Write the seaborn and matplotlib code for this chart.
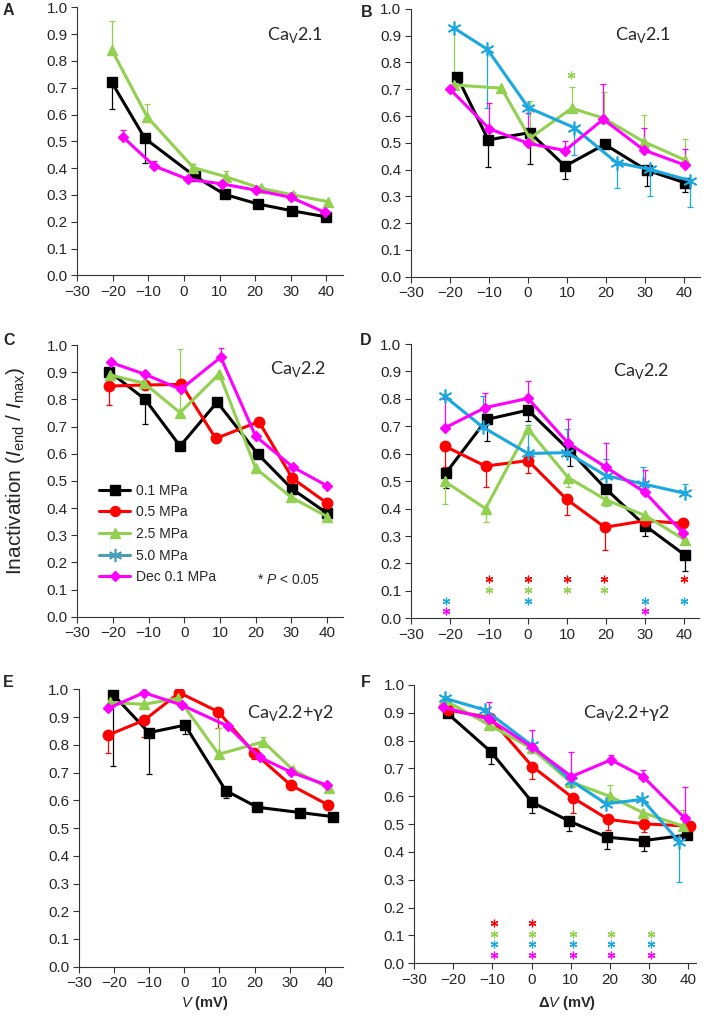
"""Inactivation vs voltage for CaV2.1, CaV2.2 and CaV2.2+gamma2 under pressure."""

import numpy as np
import pandas as pd
import matplotlib
matplotlib.use("Agg")
import matplotlib.pyplot as plt
import seaborn as sns
from matplotlib.lines import Line2D

nan = np.nan

SERIES = ["0.1 MPa", "0.5 MPa", "2.5 MPa", "5.0 MPa", "Dec 0.1 MPa"]

# ---- panel A: CaV2.1 (V)
A_X = {
    "0.1 MPa": [-20.3, -11, 3.0, 11.4, 20.8, 30.3, 40],
    "2.5 MPa": [-20.3, -10.3, 2.6, 11.7, 21.5, 30.6, 40.4],
    "Dec 0.1 MPa": [-17.1, -8.4, 1.2, 10.8, 20.1, 30, 39.5],
}
A_Y = {
    "0.1 MPa": [0.72, 0.511, 0.37, 0.302, 0.266, 0.241, 0.218],
    "2.5 MPa": [0.841, 0.59, 0.402, 0.368, 0.325, 0.30, 0.275],
    "Dec 0.1 MPa": [0.515, 0.408, 0.358, 0.341, 0.318, 0.291, 0.235],
}
A_ERR = {
    "0.1 MPa": [0.62, 0.42, nan, nan, nan, nan, nan],
    "2.5 MPa": [0.95, 0.64, 0.415, 0.39, 0.335, 0.31, nan],
    "Dec 0.1 MPa": [0.542, 0.425, nan, nan, nan, nan, nan],
}

# ---- panel B: CaV2.1 (dV)
B_X = {
    "0.1 MPa": [-18.1, -10.2, 0.5, 9.5, 19.7, 30.4, 40.2],
    "2.5 MPa": [-19, -6.8, 0.5, 11.2, 19.4, 29.7, 40.2],
    "5.0 MPa": [-18.9, -10.4, 0.1, 11.8, 22.7, 31.2, 41.5],
    "Dec 0.1 MPa": [-20, -9.9, 0.1, 9.5, 19.3, 29.7, 40.2],
}
B_Y = {
    "0.1 MPa": [0.745, 0.511, 0.538, 0.413, 0.494, 0.398, 0.351],
    "2.5 MPa": [0.716, 0.704, 0.517, 0.629, 0.592, 0.504, 0.436],
    "5.0 MPa": [0.928, 0.849, 0.631, 0.557, 0.426, 0.401, 0.359],
    "Dec 0.1 MPa": [0.70, 0.552, 0.498, 0.471, 0.588, 0.473, 0.417],
}
B_ERR = {
    "0.1 MPa": [nan, 0.41, 0.42, 0.365, nan, 0.34, 0.315],
    "2.5 MPa": [0.93, nan, 0.655, 0.71, 0.69, 0.605, 0.515],
    "5.0 MPa": [nan, 0.63, nan, 0.455, 0.33, 0.30, 0.26],
    "Dec 0.1 MPa": [nan, 0.65, 0.61, 0.505, 0.72, 0.555, 0.475],
}
B_STARS = {"2.5 MPa": ([11], 0.753)}

# ---- panel C: CaV2.2 (V)
C_X = {
    "0.1 MPa": [-21, -11, -1.2, 9.2, 20.5, 30.2, 40.1],
    "0.5 MPa": [-21, -11, -0.8, 8.8, 20.9, 30.3, 40.1],
    "2.5 MPa": [-20.8, -11.2, -1.2, 9.8, 20, 30, 40.1],
    "Dec 0.1 MPa": [-20.6, -11, -1, 10.2, 20, 30.5, 40.1],
}
C_Y = {
    "0.1 MPa": [0.902, 0.80, 0.628, 0.79, 0.60, 0.47, 0.38],
    "0.5 MPa": [0.849, 0.853, 0.855, 0.656, 0.718, 0.509, 0.417],
    "2.5 MPa": [0.89, 0.859, 0.751, 0.894, 0.546, 0.439, 0.368],
    "Dec 0.1 MPa": [0.936, 0.892, 0.837, 0.955, 0.664, 0.55, 0.481],
}
C_ERR = {
    "0.1 MPa": [nan, 0.71, nan, nan, nan, nan, nan],
    "0.5 MPa": [0.779, nan, nan, nan, nan, nan, nan],
    "2.5 MPa": [nan, nan, 0.985, nan, nan, nan, nan],
    "Dec 0.1 MPa": [nan, nan, nan, 0.99, nan, nan, nan],
}

# ---- panel D: CaV2.2 (dV)
D_X = {
    "0.1 MPa": [-21.1, -10.6, 0, 10.7, 20.1, 30, 40.2],
    "0.5 MPa": [-21.4, -10.9, 0, 9.9, 19.7, 30, 39.8],
    "2.5 MPa": [-21.4, -10.9, 0, 10.3, 20.1, 30, 40.2],
    "5.0 MPa": [-21.4, -11.5, 0, 10, 20, 29.5, 40.2],
    "Dec 0.1 MPa": [-21.2, -11, 0, 10.3, 20.1, 30, 39.8],
}
D_Y = {
    "0.1 MPa": [0.529, 0.725, 0.759, 0.611, 0.47, 0.338, 0.231],
    "0.5 MPa": [0.628, 0.555, 0.575, 0.434, 0.332, 0.356, 0.346],
    "2.5 MPa": [0.50, 0.40, 0.69, 0.513, 0.431, 0.375, 0.286],
    "5.0 MPa": [0.81, 0.696, 0.601, 0.604, 0.52, 0.49, 0.456],
    "Dec 0.1 MPa": [0.695, 0.768, 0.802, 0.638, 0.55, 0.459, 0.31],
}
D_ERR = {
    "0.1 MPa": [0.475, 0.648, 0.72, 0.555, nan, 0.30, 0.173],
    "0.5 MPa": [0.55, 0.48, 0.53, 0.375, 0.25, nan, nan],
    "2.5 MPa": [0.415, 0.35, nan, 0.48, 0.41, nan, nan],
    "5.0 MPa": [nan, 0.81, 0.705, 0.69, 0.58, 0.55, 0.49],
    "Dec 0.1 MPa": [0.80, 0.82, 0.865, 0.725, 0.64, 0.54, nan],
}
D_STARS = {
    "0.5 MPa": ([-10, 0, 10, 19.5, 40], 0.142),
    "2.5 MPa": ([-10, 0, 10, 19.5], 0.103),
    "5.0 MPa": ([-21, 0, 30, 40], 0.064),
    "Dec 0.1 MPa": ([-21, 30], 0.027),
}

# ---- panel E: CaV2.2+g2 (V)
E_X = {
    "0.1 MPa": [-20.2, -10.1, 0.2, 11.8, 20.8, 32.9, 42.4],
    "0.5 MPa": [-21.7, -11.4, -1.4, 9.7, 19.8, 30.3, 41],
    "2.5 MPa": [-21.2, -11.5, -1.7, 9.8, 22.5, 31, 41.3],
    "Dec 0.1 MPa": [-21.8, -11.5, -0.8, 12.3, 21.5, 30.5, 40.5],
}
E_Y = {
    "0.1 MPa": [0.98, 0.844, 0.871, 0.635, 0.575, 0.556, 0.541],
    "0.5 MPa": [0.835, 0.889, 0.988, 0.919, 0.772, 0.655, 0.583],
    "2.5 MPa": [0.953, 0.946, 0.968, 0.766, 0.811, 0.709, 0.643],
    "Dec 0.1 MPa": [0.931, 0.988, 0.944, 0.868, 0.755, 0.701, 0.655],
}
E_ERR = {
    "0.1 MPa": [0.725, 0.694, 0.84, 0.607, nan, nan, nan],
    "0.5 MPa": [0.77, 0.83, nan, 0.86, 0.75, nan, nan],
    "2.5 MPa": [nan, nan, nan, 0.862, 0.83, nan, nan],
    "Dec 0.1 MPa": [nan] * 7,
}

# ---- panel F: CaV2.2+g2 (dV)
F_X = {
    "0.1 MPa": [-21.5, -10.4, 0.2, 9.6, 19.3, 28.7, 39.8],
    "0.5 MPa": [-21.3, -10.7, 0.2, 10.5, 19.6, 28.7, 40.4],
    "2.5 MPa": [-22.3, -10.8, 0, 9.8, 20, 28.5, 38.7],
    "5.0 MPa": [-22.1, -11.9, 0, 10.2, 19.1, 28.3, 37.7],
    "Dec 0.1 MPa": [-22.6, -10.8, 0.2, 10.2, 20.3, 28.5, 39.2],
}
F_Y = {
    "0.1 MPa": [0.898, 0.76, 0.578, 0.511, 0.453, 0.441, 0.461],
    "0.5 MPa": [0.91, 0.883, 0.707, 0.595, 0.517, 0.501, 0.493],
    "2.5 MPa": [0.946, 0.856, 0.772, 0.653, 0.60, 0.541, 0.493],
    "5.0 MPa": [0.952, 0.91, 0.784, 0.655, 0.573, 0.589, 0.437],
    "Dec 0.1 MPa": [0.92, 0.877, 0.776, 0.671, 0.731, 0.671, 0.521],
}
F_ERR = {
    "0.1 MPa": [nan, 0.715, 0.54, 0.475, 0.41, 0.405, nan],
    "0.5 MPa": [nan, nan, 0.662, 0.54, 0.48, 0.47, nan],
    "2.5 MPa": [nan, nan, nan, nan, 0.641, nan, 0.55],
    "5.0 MPa": [nan, nan, 0.755, nan, nan, nan, 0.293],
    "Dec 0.1 MPa": [nan, 0.94, 0.84, 0.76, 0.75, 0.695, 0.635],
}
F_STARS = {
    "0.5 MPa": ([-9.5, 0.2], 0.146),
    "2.5 MPa": ([-9.5, 0.2, 10.6, 20.2, 30.6], 0.104),
    "5.0 MPa": ([-9.5, 0.2, 10.6, 20.2, 30.6], 0.068),
    "Dec 0.1 MPa": ([-9.5, 0.2, 10.6, 20.2, 30.6], 0.030),
}

X_TICKS = [-30, -20, -10, 0, 10, 20, 30, 40]
Y_TICKS = [0.0, 0.1, 0.2, 0.3, 0.4, 0.5, 0.6, 0.7, 0.8, 0.9, 1.0]

STYLE = {
    "0.1 MPa": dict(color="#000000", marker="s", ms=7.5, mew=1),
    "0.5 MPa": dict(color="#ff0000", marker="o", ms=7.5, mew=1),
    "2.5 MPa": dict(color="#92d050", marker="^", ms=7.5, mew=1),
    "5.0 MPa": dict(color="#1ba7e0", marker=(6, 2, 0), ms=10, mew=1.2),
    "Dec 0.1 MPa": dict(color="#ff00ff", marker="D", ms=5.5, mew=1),
}

sns.set_theme(style="ticks")
plt.rcParams["font.family"] = ["Liberation Sans", "DejaVu Sans"]
plt.rcParams["mathtext.fontset"] = "custom"
plt.rcParams["mathtext.rm"] = "Liberation Sans"
plt.rcParams["mathtext.it"] = "Liberation Sans:italic"
plt.rcParams["mathtext.bf"] = "Liberation Sans:bold"

fig = plt.figure(figsize=(7.09, 10.16), dpi=100)

panels = [
    # letter, rect, xmax, data, title, title pos, stars
    ("A", [0.109, 0.729, 0.375, 0.2638], 44.7, (A_X, A_Y, A_ERR), "2.1", (0.713, 0.878), {}),
    ("B", [0.5797, 0.7277, 0.407, 0.2635], 44.0, (B_X, B_Y, B_ERR), "2.1", (0.707, 0.884), B_STARS),
    ("C", [0.109, 0.393, 0.375, 0.2674], 44.5, (C_X, C_Y, C_ERR), "2.2", (0.724, 0.893), {}),
    ("D", [0.5797, 0.3914, 0.406, 0.270], 43.8, (D_X, D_Y, D_ERR), "2.2", (0.701, 0.883), D_STARS),
    ("E", [0.1114, 0.0485, 0.3724, 0.273], 45.2, (E_X, E_Y, E_ERR), "2.2+\u03b32", (0.636, 0.896), {}),
    ("F", [0.5843, 0.0519, 0.3977, 0.2739], 42.1, (F_X, F_Y, F_ERR), "2.2+\u03b32", (0.598, 0.881), F_STARS),
]

letter_pos = {"A": (3, 3), "B": (361, 5), "C": (3, 333), "D": (360, 333), "E": (3, 675), "F": (361, 675)}

axes = {}
for letter, rect, xmax, (xs_d, ys_d, err_d), title, tpos, stars in panels:
    ax = fig.add_axes(rect)
    axes[letter] = ax
    for name in SERIES:
        if name not in xs_d:
            continue
        st = STYLE[name]
        xs = np.array(xs_d[name], dtype=float)
        ys = np.array(ys_d[name], dtype=float)
        tips = np.array(err_d[name], dtype=float)
        ok = np.isfinite(tips)
        ax.vlines(xs[ok], ys[ok], tips[ok], color=st["color"], lw=0.9, zorder=2)
        ax.plot(xs[ok], tips[ok], ls="none", marker="_", ms=5, mew=0.9,
                color=st["color"], zorder=2)
        df = pd.DataFrame({"x": xs, "y": ys})
        sns.lineplot(data=df, x="x", y="y", ax=ax, sort=False, estimator=None,
                     color=st["color"], lw=2.2, marker=st["marker"],
                     markersize=st["ms"], markeredgecolor=st["color"],
                     markeredgewidth=st["mew"], zorder=3)
    for name, (sx, sy) in stars.items():
        ax.plot(sx, [sy] * len(sx), ls="none", marker=(6, 2, 0), ms=5.5, mew=0.9,
                color=STYLE[name]["color"], zorder=3)
    ax.set_xlim(-30, xmax)
    ax.set_ylim(0, 1.0)
    ax.set_xticks(X_TICKS)
    ax.set_yticks(Y_TICKS)
    ax.set_yticklabels([f"{v:.1f}" for v in Y_TICKS])
    ax.set_xlabel("")
    ax.set_ylabel("")
    ax.tick_params(labelsize=11, length=4.5, width=0.8, color="#333333", pad=2.5)
    for side in ["left", "bottom"]:
        ax.spines[side].set_color("#333333")
        ax.spines[side].set_linewidth(0.8)
    sns.despine(ax=ax)
    ax.text(tpos[0], tpos[1], "Ca$_\\mathregular{V}$" + title, transform=ax.transAxes,
            fontsize=13, family=["Lato", "DejaVu Sans"], va="baseline", ha="left")
    lx, ly = letter_pos[letter]
    fig.text(lx / 709, 1 - ly / 1016, letter, fontsize=11.5, fontweight="bold",
             ha="left", va="top")

# legend in panel C
handles = [
    Line2D([], [], color=STYLE[n]["color"] if n != "5.0 MPa" else "#4a9cb8",
           marker=STYLE[n]["marker"], markersize=STYLE[n]["ms"] * 0.95,
           markeredgewidth=STYLE[n]["mew"], lw=2.2,
           markeredgecolor=STYLE[n]["color"] if n != "5.0 MPa" else "#4a9cb8")
    for n in SERIES
]
axes["C"].legend(handles, SERIES, loc="upper left", bbox_to_anchor=(0.08, 0.49),
                 frameon=False, fontsize=10, handlelength=2.3, handletextpad=0.4,
                 labelspacing=0.55, borderaxespad=0, borderpad=0)
axes["C"].text(0.676, 0.135, "* $P$ < 0.05", transform=axes["C"].transAxes,
               fontsize=10, va="center", ha="left")

fig.text(0.0215, 0.536, "Inactivation ($I_\\mathregular{end}$ / $I_\\mathregular{max}$)",
         rotation=90, fontsize=15, ha="center", va="center")
fig.text(205 / 709, 1 - 1003 / 1016, "$\\mathbf{\\mathit{V}}$ (mV)", fontsize=10.5,
         fontweight="bold", ha="center", va="center")
fig.text(567 / 709, 1 - 1003 / 1016, "\u0394$\\mathbf{\\mathit{V}}$ (mV)", fontsize=10.5,
         fontweight="bold", ha="center", va="center")

fig.savefig("out.png", dpi=100)
